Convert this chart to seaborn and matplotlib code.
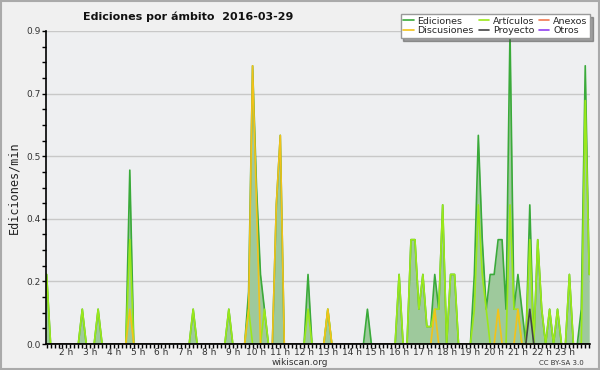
"""
plot.py - Ediciones por ámbito (wikiscan style area chart)
"""

import numpy as np
import pandas as pd
import matplotlib
matplotlib.use("Agg")
import matplotlib.pyplot as plt
from matplotlib.ticker import FixedLocator, MultipleLocator, AutoMinorLocator
from matplotlib.patches import Rectangle
import seaborn as sns

# 10-minute bins over the day (index k -> hour k/6), only non-zero bins listed
ed_bins = [7, 16, 20, 28, 44, 53, 58, 59, 60, 61, 62, 65, 66, 73, 78, 88,
           96, 99, 100, 101, 102, 103, 104, 105, 106, 107, 109, 110, 115, 116,
           117, 118, 119, 120, 121, 122, 123, 124, 125, 126, 127, 129, 131,
           132, 134, 136, 139, 142, 143, 144]
ed_vals = [0.2, 0.1, 0.1, 0.5, 0.1, 0.1, 0.15, 0.8, 0.45, 0.2, 0.1, 0.4, 0.6,
           0.2, 0.1, 0.1, 0.2, 0.3, 0.3, 0.1, 0.2, 0.05, 0.05, 0.2, 0.1, 0.4,
           0.2, 0.2, 0.2, 0.6, 0.3, 0.1, 0.2, 0.2, 0.3, 0.3, 0.1, 0.9, 0.1,
           0.2, 0.1, 0.4, 0.3, 0.1, 0.1, 0.1, 0.2, 0.1, 0.8, 0.2]

art_bins = [7, 16, 20, 28, 44, 53, 58, 62, 73, 78, 96, 99, 100, 101, 102,
            103, 104, 105, 106, 107, 109, 110, 115, 116, 117, 118, 124, 125,
            126, 129, 131, 132, 134, 136, 139, 143, 144]
art_vals = [0.2, 0.1, 0.1, 0.3, 0.1, 0.1, 0.1, 0.1, 0.1, 0.1, 0.2, 0.3, 0.3,
            0.1, 0.2, 0.05, 0.05, 0.1, 0.1, 0.4, 0.2, 0.2, 0.1, 0.4, 0.2, 0.1,
            0.4, 0.1, 0.1, 0.3, 0.3, 0.1, 0.1, 0.1, 0.2, 0.7, 0.2]

disc_bins = [28, 58, 59, 60, 65, 66, 78, 105, 121, 126]
disc_vals = [0.1, 0.1, 0.8, 0.4, 0.4, 0.6, 0.1, 0.1, 0.1, 0.1]

proy_bins = [129]
proy_vals = [0.1]

anexos_bins = []
anexos_vals = []
otros_bins = []
otros_vals = []

hour_ticks = list(range(2, 24))
hour_labels = [f"{h} h" for h in hour_ticks]

COLORS = {
    "Ediciones"  : "#3aaa3a",
    "Artículos"  : "#9be81a",
    "Anexos"     : "#f07850",
    "Discusiones": "#f2c21a",
    "Proyecto"   : "#444444",
    "Otros"      : "#9040f0",
}


def series(bins, vals):
    y = np.zeros(145)
    y[bins] = vals
    return y


df = pd.DataFrame({
    "hour"       : np.arange(145) / 6,
    "Ediciones"  : series(ed_bins, ed_vals),
    "Artículos"  : series(art_bins, art_vals),
    "Anexos"     : series(anexos_bins, anexos_vals),
    "Discusiones": series(disc_bins, disc_vals),
    "Proyecto"   : series(proy_bins, proy_vals),
    "Otros"      : series(otros_bins, otros_vals),
})

sns.set_theme(style="white")
plt.rcParams["font.family"] = ["DejaVu Sans"]

fig = plt.figure(figsize=(6, 3.7), dpi=100, facecolor="#f0f0f0")
ax = fig.add_axes([46 / 600, 26 / 370, 544 / 600, 313 / 370])
ax.set_facecolor("#eeeff1")

# filled area under the total
ax.fill_between(df["hour"], df["Ediciones"], color="#9ec99c", lw=0, zorder=1)

for name in ["Anexos", "Otros", "Ediciones", "Artículos", "Discusiones", "Proyecto"]:
    sns.lineplot(data=df, x="hour", y=name, ax=ax, color=COLORS[name],
                 lw=1.2, label=name, zorder=2, legend=False)

ax.set_xlim(6.84 / 6, 144.2 / 6)
ax.set_ylim(0, 0.9)

yt = np.linspace(0, 0.9, 6)
ax.yaxis.set_major_locator(FixedLocator(yt))
ax.set_yticklabels([f"{v:.1f}" for v in yt])
ax.yaxis.set_minor_locator(AutoMinorLocator(4))
ax.set_xticks(hour_ticks)
ax.set_xticklabels(hour_labels)
ax.xaxis.set_minor_locator(MultipleLocator(1 / 6))

ax.grid(axis="y", color="#c8c8c8", lw=1)
ax.set_axisbelow(True)
for side in ["top", "right"]:
    ax.spines[side].set_visible(False)
for side in ["left", "bottom"]:
    ax.spines[side].set_color("black")
    ax.spines[side].set_linewidth(1.2)
    ax.spines[side].set_zorder(3)

ax.tick_params(axis="both", which="both", direction="out", color="black",
               length=3, width=1, labelsize=6.5, labelcolor="#333333", pad=1,
               bottom=True, left=True, top=False, right=False)
ax.tick_params(axis="x", which="major", pad=0)

ax.set_xlabel("")
ax.set_ylabel("Ediciones/min", family="DejaVu Sans Mono", fontsize=8.5,
              color="#222222", labelpad=4)

fig.text(188 / 600, 0.954, "Ediciones por ámbito  2016-03-29", ha="center",
         va="center", fontsize=8, fontweight="bold", color="#111111")

handles, labels = ax.get_legend_handles_labels()
order = ["Ediciones", "Discusiones", "Artículos", "Proyecto", "Anexos", "Otros"]
hmap = dict(zip(labels, handles))
fig.legend([hmap[o] for o in order], order, loc="upper right",
           bbox_to_anchor=(0.992, 0.975), ncol=3, fontsize=6.8, frameon=True,
           fancybox=False, shadow=True, edgecolor="#999999", facecolor="white",
           framealpha=1, handlelength=1.1, handletextpad=0.4,
           columnspacing=0.5, labelspacing=0.05, borderpad=0.3)

fig.text(0.5, 0.02, "wikiscan.org", ha="center", va="center", fontsize=6.5,
         color="#333333")
fig.text(0.935, 0.02, "CC BY-SA 3.0", ha="center", va="center", fontsize=5,
         color="#333333")

fig.patches.append(Rectangle((0.001, 0.002), 0.997, 0.995, transform=fig.transFigure,
                             fill=False, edgecolor="#aaaaaa", lw=1.5))

plt.savefig("out.png", dpi=100, facecolor=fig.get_facecolor())
